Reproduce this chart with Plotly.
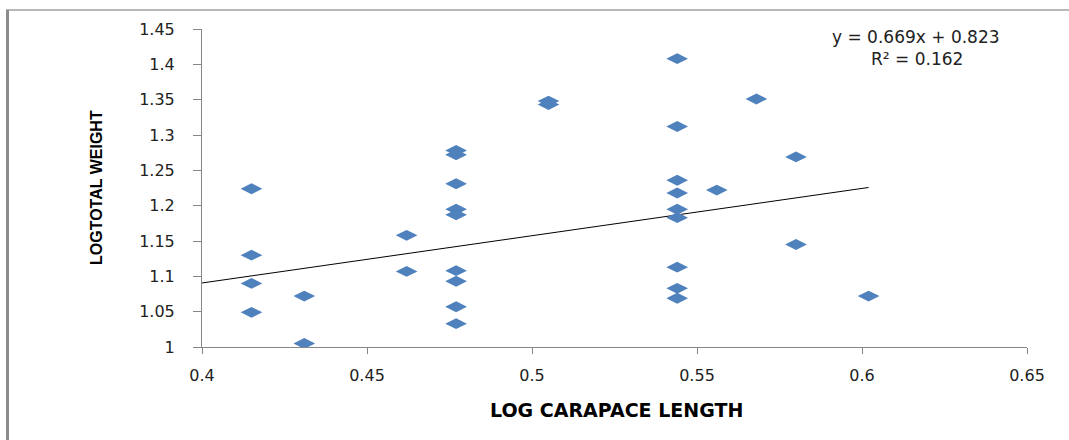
import plotly.graph_objects as go

# ---- data ----
log_carapace_length = [
    0.415, 0.415, 0.415, 0.415,
    0.431, 0.431,
    0.462, 0.462,
    0.477, 0.477, 0.477, 0.477, 0.477, 0.477, 0.477, 0.477, 0.477,
    0.505, 0.505,
    0.544, 0.544, 0.544, 0.544, 0.544, 0.544, 0.544, 0.544, 0.544,
    0.556,
    0.568,
    0.580, 0.580,
    0.602,
]
log_total_weight = [
    1.224, 1.130, 1.090, 1.049,
    1.072, 1.005,
    1.158, 1.107,
    1.278, 1.272, 1.231, 1.195, 1.187, 1.108, 1.093, 1.057, 1.033,
    1.348, 1.343,
    1.408, 1.312, 1.236, 1.218, 1.195, 1.183, 1.113, 1.083, 1.069,
    1.222,
    1.351,
    1.269, 1.145,
    1.072,
]
trend_slope = 0.669
trend_intercept = 0.823
equation_text = "y = 0.669x + 0.823"
r2_text = "R² = 0.162"
x_ticks = [0.4, 0.45, 0.5, 0.55, 0.6, 0.65]
x_tick_labels = ["0.4", "0.45", "0.5", "0.55", "0.6", "0.65"]
y_ticks = [1, 1.05, 1.1, 1.15, 1.2, 1.25, 1.3, 1.35, 1.4, 1.45]
y_tick_labels = ["1", "1.05", "1.1", "1.15", "1.2", "1.25", "1.3", "1.35", "1.4", "1.45"]

# ---- layout geometry (pixels) ----
W, H = 1069, 440
ML, MR, MT, MB = 202, 42, 29, 93
PW, PH = W - ML - MR, H - MT - MB


def px(xp):
    return (xp - ML) / PW


def py(yp):
    return (H - MB - yp) / PH


trend_x = [x_ticks[0], max(log_carapace_length)]
trend_y = [trend_slope * v + trend_intercept for v in trend_x]

fig = go.Figure()
fig.add_trace(go.Scatter(
    x=trend_x, y=trend_y, mode="lines",
    line=dict(color="#000000", width=1), showlegend=False, hoverinfo="skip",
))
fig.add_trace(go.Scatter(
    x=log_carapace_length, y=log_total_weight, mode="markers",
    marker=dict(symbol="diamond-wide", size=15.5, color="#4F81BD",
                line=dict(width=0)),
    showlegend=False,
))

axis_common = dict(
    showgrid=False, zeroline=False, showline=True, linecolor="#868686",
    linewidth=1, ticks="outside", tickcolor="#868686",
    tickfont=dict(family="DejaVu Sans", size=16, color="#222222"),
)
fig.update_xaxes(range=[0.4, 0.65], tickvals=x_ticks, ticktext=x_tick_labels,
                 ticklen=6, ticklabelstandoff=8, **axis_common)
fig.update_yaxes(range=[1, 1.45], tickvals=y_ticks, ticktext=y_tick_labels,
                 ticklen=8, ticklabelstandoff=15, **axis_common)

annotations = [
    dict(text="<b>LOG CARAPACE LENGTH</b>", xref="paper", yref="paper",
         x=px(616), y=py(410), showarrow=False, xanchor="center", yanchor="middle",
         font=dict(family="DejaVu Sans", size=19, color="#000000")),
    dict(text="<b>LOGTOTAL WEIGHT</b>", xref="paper", yref="paper",
         x=px(96), y=py(188), showarrow=False, xanchor="center", yanchor="middle",
         textangle=-90,
         font=dict(family="Liberation Sans Narrow, Liberation Sans", size=16, color="#000000")),
    dict(text=equation_text, xref="paper", yref="paper",
         x=px(916), y=py(37), showarrow=False, xanchor="center", yanchor="middle",
         font=dict(family="DejaVu Sans", size=17, color="#222222")),
    dict(text=r2_text, xref="paper", yref="paper",
         x=px(917), y=py(59), showarrow=False, xanchor="center", yanchor="middle",
         font=dict(family="DejaVu Sans", size=17, color="#222222")),
]

shapes = [
    dict(type="line", xref="paper", yref="paper", x0=px(6), x1=px(W), y0=py(10), y1=py(10),
         line=dict(color="#a0a0a0", width=1.5)),
    dict(type="line", xref="paper", yref="paper", x0=px(7.5), x1=px(7.5), y0=py(10), y1=py(H),
         line=dict(color="#8c8c8c", width=3)),
]

fig.update_layout(
    width=W, height=H, autosize=False,
    margin=dict(l=ML, r=MR, t=MT, b=MB, pad=0),
    paper_bgcolor="#ffffff", plot_bgcolor="#ffffff",
    annotations=annotations, shapes=shapes,
    showlegend=False,
)

fig.write_html("out.html", config={"displayModeBar": False},
               post_script="document.body.style.margin='0px';document.body.style.padding='0px';")
